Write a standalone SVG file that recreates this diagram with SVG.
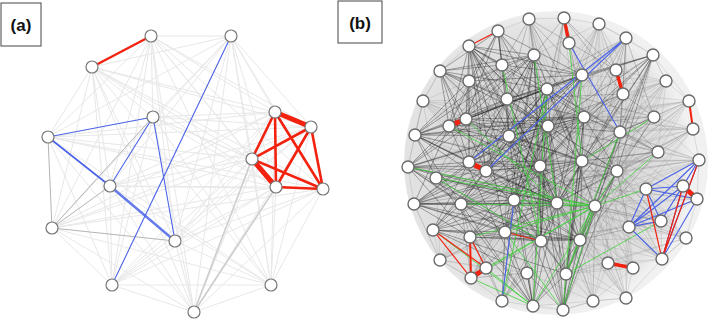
<svg xmlns="http://www.w3.org/2000/svg" width="709" height="320" viewBox="0 0 709 320">
<defs>
<radialGradient id="haze" cx="0.45" cy="0.5" r="0.5">
<stop offset="0" stop-color="#bdbdbd"/>
<stop offset="0.6" stop-color="#cbcbcb"/>
<stop offset="0.9" stop-color="#dadada"/>
<stop offset="1" stop-color="#ececec"/>
</radialGradient>
</defs>
<style>
.lbl{fill:#fff;stroke:#444;stroke-width:1}
.lt{font-family:"Liberation Sans",Arial,sans-serif;font-weight:bold;font-size:17px;fill:#111;text-anchor:middle}
.na circle{fill:#fff;stroke:#777;stroke-width:1.2}
.nb circle{fill:#fff;stroke:#6a6a6a;stroke-width:1.4}
.e{fill:none;stroke-linecap:round}
.alight{stroke:#e8e8e8;stroke-width:1}
.amed{stroke:#b4b4b4;stroke-width:1}
.red{stroke:#f2220f}
.blue{stroke:#4a63e8}
.green{stroke:#3fcf3a}
.bdark{stroke:#222;stroke-opacity:0.42;stroke-width:0.9}
.bmed{stroke:#444;stroke-opacity:0.3;stroke-width:0.9}
.blite{stroke:#888;stroke-opacity:0.25;stroke-width:0.9}
</style>
<rect width="709" height="320" fill="#fff"/>
<g id="label-a"><rect class="lbl" x="1" y="3" width="40" height="43"/><text class="lt" x="21" y="31">(a)</text></g>
<g id="label-b"><rect class="lbl" x="338" y="1" width="44" height="42"/><text class="lt" x="360" y="29">(b)</text></g>
<circle cx="556" cy="163" r="152" fill="url(#haze)" opacity="0.75"/>
<g id="connectors">
<path class="e alight" d="M151 36L231 36M151 36L153 117M151 36L48 137M151 36L275 112M151 36L311 127M151 36L252 159M151 36L276 187M151 36L323 189M151 36L110 186M151 36L52 228M151 36L175 241M151 36L112 285M151 36L271 285M151 36L194 312M231 36L92 67M231 36L153 117M231 36L48 137M231 36L275 112M231 36L311 127M231 36L252 159M231 36L276 187M231 36L323 189M231 36L110 186M231 36L52 228M231 36L175 241M231 36L271 285M231 36L194 312M92 67L153 117M92 67L48 137M92 67L275 112M92 67L311 127M92 67L252 159M92 67L276 187M92 67L323 189M92 67L110 186M92 67L52 228M92 67L175 241M92 67L112 285M92 67L271 285M92 67L194 312M153 117L275 112M153 117L311 127M153 117L252 159M153 117L276 187M153 117L323 189M153 117L112 285M153 117L271 285M153 117L194 312M48 137L275 112M48 137L311 127M48 137L252 159M48 137L276 187M48 137L323 189M48 137L112 285M48 137L271 285M48 137L194 312M275 112L110 186M275 112L52 228M275 112L175 241M275 112L112 285M275 112L271 285M275 112L194 312M311 127L110 186M311 127L52 228M311 127L175 241M311 127L112 285M311 127L271 285M311 127L194 312M252 159L110 186M252 159L52 228M252 159L175 241M252 159L112 285M252 159L271 285M276 187L110 186M276 187L52 228M276 187L175 241M276 187L112 285M276 187L271 285M323 189L110 186M323 189L52 228M323 189L175 241M323 189L112 285M323 189L271 285M323 189L194 312M110 186L112 285M110 186L271 285M110 186L194 312M52 228L112 285M52 228L271 285M52 228L194 312M175 241L112 285M175 241L271 285M175 241L194 312M112 285L271 285M112 285L194 312M271 285L194 312"/>
<path class="e amed" d="M48 137L52 228M52 228L175 241M52 228L153 117M110 186L52 228"/>
<path class="e" stroke="#cdcdcd" stroke-width="1.6" d="M194 312L252 159M194 312L276 187"/>
<path class="e blue" stroke-width="1.1" d="M48 137L153 117M153 117L110 186M153 117L175 241M231 36L112 285"/>
<path class="e blue" stroke-width="1.6" d="M48 137L110 186"/>
<path class="e blue" stroke-width="2.4" stroke-opacity="0.85" d="M110 186L175 241"/>
<path class="e red" stroke-width="2.4" d="M92 67L151 36"/>
<path class="e red" stroke-width="2.6" d="M275 112L252 159M275 112L276 187M275 112L323 189M311 127L252 159M311 127L276 187M311 127L323 189M252 159L323 189M276 187L323 189"/>
<path class="e red" stroke-width="5" d="M275 112L311 127M252 159L276 187"/>

<path class="e blite" d="M529 19L564 18M564 18L599 24M599 24L626 38M626 38L653 55M653 55L666 81M666 81L689 101M689 101L693 129M693 129L699 160M699 160L697 199M697 199L686 238M686 238L662 259M662 259L626 298M626 298L593 301M593 301L563 310M563 310L533 306M533 306L502 301M502 301L471 278M471 278L440 260M440 260L414 204M414 204L408 167M408 167L415 135M415 135L423 101M423 101L440 71M440 71L469 46M469 46L498 31M498 31L529 19M599 24L534 55M599 24L582 75M599 24L547 89M599 24L584 117M599 24L548 126M599 24L616 70M599 24L623 94M599 24L653 55M599 24L654 117M599 24L620 132M599 24L582 161M599 24L540 166M666 81L653 55M666 81L616 70M666 81L623 94M666 81L584 117M666 81L654 117M666 81L620 132M666 81L658 152M666 81L548 126M666 81L582 161M666 81L540 166M666 81L617 171M666 81L582 75M666 81L547 89M689 101L653 55M689 101L654 117M689 101L620 132M689 101L658 152M689 101L584 117M689 101L548 126M689 101L582 161M689 101L617 171M689 101L623 94M689 101L540 166M689 101L557 203M693 129L654 117M693 129L658 152M693 129L620 132M693 129L617 171M693 129L582 161M693 129L584 117M693 129L548 126M693 129L540 166M693 129L646 189M693 129L595 206M693 129L557 203M699 160L658 152M699 160L617 171M699 160L646 189M699 160L595 206M699 160L661 221M699 160L629 227M699 160L582 161M699 160L620 132M699 160L654 117M699 160L557 203M699 160L540 166M697 199L646 189M697 199L661 221M697 199L629 227M697 199L595 206M697 199L580 240M697 199L617 171M697 199L557 203M697 199L658 152M686 238L661 221M686 238L629 227M686 238L662 259M686 238L595 206M686 238L580 240M686 238L646 189M686 238L557 203M686 238L617 171M686 238L566 274M686 238L608 263M662 259L629 227M662 259L661 221M662 259L595 206M662 259L580 240M662 259L608 263M662 259L566 274M662 259L557 203M662 259L617 171M633 268L629 227M633 268L580 240M633 268L595 206M633 268L566 274M633 268L557 203M633 268L608 263M633 268L593 301M633 268L541 241M633 268L617 171M608 263L580 240M608 263L595 206M608 263L566 274M608 263L557 203M608 263L541 241M608 263L527 273M608 263L593 301M626 298L580 240M626 298L595 206M626 298L566 274M626 298L608 263M626 298L633 268M626 298L557 203M626 298L629 227M626 298L541 241M626 298L593 301M593 301L580 240M593 301L566 274M593 301L563 310M593 301L557 203M593 301L595 206M593 301L541 241M593 301L527 273M593 301L533 306M440 260L433 230M440 260L470 237M440 260L486 268M440 260L471 278M440 260L461 204M440 260L505 232M440 260L527 273M440 260L414 204M440 260L436 178M440 260L514 200M440 260L557 203M423 101L440 71M423 101L469 81M423 101L466 119M423 101L449 126M423 101L415 135M423 101L507 99M423 101L509 136M423 101L408 167M423 101L436 178M423 101L469 162M423 101L486 171M599 24L440 260M666 81L471 278M689 101L502 301M693 129L533 306M699 160L414 204M686 238L408 167M662 259L415 135M633 268L423 101M626 298L440 71M593 301L469 46M563 310L498 31M533 306L529 19M502 301L564 18M471 278L599 24M440 260L626 38M414 204L653 55M408 167L666 81M415 135L689 101M423 101L693 129M440 71L699 160M469 46L697 199M498 31L686 238M529 19L662 259M564 18L633 268M599 24L608 263M626 38L626 298M653 55L593 301M666 81L563 310M689 101L533 306M693 129L471 278M699 160L440 260M697 199L408 167M686 238L423 101M662 259L440 71M626 298L469 46M593 301L498 31M563 310L529 19M533 306L564 18M502 301L599 24M471 278L626 38M440 260L653 55M414 204L666 81M408 167L689 101M415 135L693 129M423 101L699 160M440 71L697 199M469 46L686 238M498 31L662 259M529 19L633 268M564 18L626 298M599 24L593 301M626 38L563 310M653 55L533 306M666 81L502 301M689 101L471 278M693 129L440 260M699 160L408 167M697 199L415 135M686 238L440 71M662 259L469 46M633 268L498 31M626 298L529 19M593 301L564 18M563 310L626 38M533 306L653 55M502 301L666 81M471 278L689 101M440 260L693 129M414 204L699 160M408 167L697 199M415 135L686 238M423 101L662 259M440 71L633 268M469 46L626 298M498 31L593 301M529 19L563 310"/>

<path class="e bmed" d="M626 38L582 75M626 38L547 89M626 38L584 117M626 38L548 126M626 38L582 161M626 38L620 132M626 38L623 94M626 38L654 117M626 38L507 99M623 94L584 117M623 94L548 126M623 94L582 161M623 94L540 166M623 94L620 132M623 94L654 117M623 94L507 99M623 94L509 136M623 94L557 203M654 117L584 117M654 117L548 126M654 117L582 161M654 117L540 166M654 117L620 132M654 117L617 171M654 117L557 203M654 117L595 206M654 117L547 89M658 152L582 161M658 152L540 166M658 152L557 203M658 152L617 171M658 152L620 132M658 152L548 126M658 152L584 117M658 152L547 89M658 152L582 75M658 152L580 240M661 221L557 203M661 221L595 206M661 221L580 240M661 221L541 241M661 221L617 171M661 221L582 161M661 221L540 166M529 19L534 55M529 19L502 65M529 19L582 75M529 19L547 89M529 19L507 99M529 19L548 126M529 19L584 117M529 19L616 70M564 18L582 75M564 18L547 89M564 18L584 117M564 18L548 126M564 18L616 70M564 18L623 94M564 18L534 55M617 171L620 132M617 171L595 206M617 171L629 227M617 171L514 200M617 171L509 136M617 171L486 171M617 171L461 204M617 171L507 99M469 81L507 99M469 81L466 119M469 81L449 126M469 81L509 136M469 81L486 171M469 81L469 162M469 81L540 166M469 81L548 126M502 65L507 99M502 65L466 119M502 65L449 126M502 65L509 136M502 65L486 171M502 65L469 162M502 65L540 166M502 65L548 126M502 65L469 81M507 99L466 119M507 99L449 126M507 99L509 136M507 99L469 162M507 99L486 171M507 99L461 204M507 99L514 200M502 301L514 200M502 301L557 203M502 301L470 237M502 301L505 232M502 301L541 241M502 301L527 273M502 301L540 166M502 301L509 136M502 301L461 204M471 278L461 204M471 278L514 200M471 278L557 203M471 278L505 232M471 278L541 241M471 278L527 273M461 204L509 136M461 204L486 171M461 204L514 200M461 204L505 232M461 204L470 237M436 178L509 136M436 178L486 171M436 178L461 204M436 178L514 200M436 178L557 203M436 178L505 232M436 178L507 99M436 178L466 119"/>

<path class="e bdark" d="M469 46L534 55M469 46L502 65M469 46L582 75M469 46L547 89M469 46L507 99M469 46L466 119M469 46L449 126M469 46L548 126M469 46L509 136M469 46L469 162M469 46L486 171M469 46L540 166M469 46L514 200M469 46L505 232M469 46L557 203M469 46L584 117M469 46L582 161M534 55L502 65M534 55L469 81M534 55L507 99M534 55L466 119M534 55L449 126M534 55L509 136M534 55L469 162M534 55L486 171M534 55L540 166M534 55L514 200M534 55L557 203M534 55L505 232M534 55L541 241M534 55L584 117M534 55L582 161M534 55L440 71M534 55L415 135M415 135L507 99M415 135L466 119M415 135L509 136M415 135L469 162M415 135L486 171M415 135L540 166M415 135L461 204M415 135L514 200M415 135L548 126M415 135L547 89M415 135L469 81M415 135L502 65M415 135L584 117M415 135L557 203M415 135L436 178M408 167L449 126M408 167L509 136M408 167L469 162M408 167L486 171M408 167L540 166M408 167L461 204M408 167L514 200M408 167L557 203M408 167L548 126M408 167L505 232M408 167L470 237M408 167L541 241M408 167L507 99M408 167L466 119M408 167L595 206M414 204L469 162M414 204L486 171M414 204L540 166M414 204L461 204M414 204L514 200M414 204L557 203M414 204L595 206M414 204L505 232M414 204L470 237M414 204L541 241M414 204L580 240M414 204L449 126M414 204L509 136M414 204L548 126M414 204L582 161M433 230L461 204M433 230L514 200M433 230L557 203M433 230L505 232M433 230L541 241M433 230L580 240M433 230L527 273M433 230L566 274M433 230L540 166M433 230L509 136M433 230L469 162M433 230L486 171M533 306L461 204M533 306L514 200M533 306L557 203M533 306L470 237M533 306L505 232M533 306L541 241M533 306L580 240M533 306L527 273M533 306L566 274M533 306L509 136M533 306L540 166M533 306L436 178M533 306L449 126M563 310L514 200M563 310L557 203M563 310L595 206M563 310L541 241M563 310L580 240M563 310L527 273M563 310L566 274M563 310L540 166M563 310L582 161M563 310L617 171M563 310L620 132M563 310L584 117M566 274L540 166M566 274L514 200M566 274L557 203M566 274L595 206M566 274L541 241M566 274L580 240M566 274L582 161M566 274L617 171M566 274L620 132M566 274L584 117M566 274L509 136M440 71L507 99M440 71L466 119M440 71L449 126M440 71L509 136M440 71L469 81M440 71L502 65M440 71L547 89M440 71L548 126M440 71L469 162M440 71L486 171M498 31L502 65M498 31L469 81M498 31L547 89M498 31L507 99M498 31L466 119M498 31L449 126M498 31L548 126M498 31L509 136M498 31L440 71M498 31L582 75M582 75L507 99M582 75L466 119M582 75L449 126M582 75L548 126M582 75L509 136M582 75L469 162M582 75L486 171M582 75L540 166M582 75L514 200M582 75L557 203M582 75L469 81M582 75L502 65M547 89L507 99M547 89L466 119M547 89L449 126M547 89L509 136M547 89L469 162M547 89L486 171M547 89L540 166M547 89L461 204M547 89L514 200M547 89L557 203M547 89L595 206M547 89L505 232M547 89L541 241M547 89L582 161M547 89L620 132M547 89L584 117M584 117L507 99M584 117L466 119M584 117L449 126M584 117L509 136M584 117L469 162M584 117L486 171M584 117L540 166M584 117L461 204M584 117L514 200M584 117L557 203M584 117L548 126M584 117L582 161M584 117L620 132M584 117L617 171M582 161L507 99M582 161L466 119M582 161L449 126M582 161L509 136M582 161L469 162M582 161L486 171M582 161L461 204M582 161L514 200M582 161L557 203M582 161L470 237M582 161L505 232M582 161L541 241M582 161L580 240M582 161L617 171M582 161L620 132M548 126L507 99M548 126L466 119M548 126L449 126M548 126L509 136M548 126L469 162M548 126L486 171M548 126L540 166M548 126L461 204M548 126L514 200M548 126L557 203M548 126L470 237M548 126L505 232M548 126L541 241M548 126L580 240M548 126L620 132M548 126L617 171M540 166L507 99M540 166L466 119M540 166L449 126M540 166L509 136M540 166L469 162M540 166L486 171M540 166L461 204M540 166L514 200M540 166L557 203M540 166L470 237M540 166L505 232M540 166L541 241M540 166L580 240M540 166L595 206M557 203L509 136M557 203L469 162M557 203L486 171M557 203L461 204M557 203L514 200M557 203L470 237M557 203L505 232M557 203L541 241M557 203L580 240M557 203L436 178M557 203L449 126M557 203L507 99M557 203L620 132M557 203L617 171M541 241L509 136M541 241L461 204M541 241L514 200M541 241L470 237M541 241L505 232M541 241L580 240M541 241L436 178M541 241L486 171M580 240L461 204M580 240L514 200M580 240L470 237M580 240L505 232M580 240L617 171M580 240L620 132M580 240L595 206M580 240L509 136M580 240L486 171M653 55L582 75M653 55L547 89M653 55L584 117M653 55L548 126M653 55L582 161M653 55L540 166M653 55L617 171M653 55L557 203M653 55L595 206M653 55L507 99M653 55L620 132"/>

<path class="e green" stroke-width="0.9" stroke-opacity="0.9" d="M595 206L408 167M595 206L436 178M595 206L461 204M595 206L514 200M595 206L470 237M595 206L505 232M595 206L486 268M595 206L471 278M595 206L646 189M595 206L617 171M595 206L566 274M595 206L533 306M595 206L563 310M595 206L449 126M595 206L658 152M534 55L557 203M502 65L541 241M569 43L582 161M547 89L533 306M547 89L502 301M466 119L557 203M654 117L582 161M620 132L566 274M433 230L533 306M471 278L533 306M486 268L533 306M436 178L541 241M582 75L563 310M505 232L563 310M661 221L566 274"/>

<path class="e blue" stroke-width="1.1" d="M569 43L620 132M626 38L469 162M626 38L486 171M514 200L502 301M629 227L646 189M629 227L683 186M629 227L697 199M629 227L699 160M629 227L662 259M646 189L683 186M646 189L697 199M646 189L661 221M683 186L661 221M699 160L661 221M699 160L683 186M699 160L662 259M683 186L662 259M697 199L662 259M629 227L661 221M646 189L699 160"/>

<path class="e red" stroke-width="1.2" d="M498 31L469 46M433 230L471 278M433 230L486 268M470 237L486 268M505 232L541 241M646 189L662 259M699 160L662 259M683 186L662 259"/>
<path class="e red" stroke-width="2" d="M470 237L471 278M689 101L693 129"/>
<path class="e red" stroke-width="3.4" d="M564 18L569 43M616 70L623 94M608 263L633 268"/>
<path class="e red" stroke-width="5" d="M466 119L449 126M469 162L486 171M683 186L697 199M471 278L486 268"/>
</g>

<g class="na">
<g id="a1"><circle cx="151" cy="36" r="6"/></g>
<g id="a2"><circle cx="231" cy="36" r="6"/></g>
<g id="a3"><circle cx="92" cy="67" r="6"/></g>
<g id="a4"><circle cx="153" cy="117" r="6"/></g>
<g id="a5"><circle cx="48" cy="137" r="6"/></g>
<g id="a6"><circle cx="275" cy="112" r="6"/></g>
<g id="a7"><circle cx="311" cy="127" r="6"/></g>
<g id="a8"><circle cx="252" cy="159" r="6"/></g>
<g id="a9"><circle cx="276" cy="187" r="6"/></g>
<g id="a10"><circle cx="323" cy="189" r="6"/></g>
<g id="a11"><circle cx="110" cy="186" r="6"/></g>
<g id="a12"><circle cx="52" cy="228" r="6"/></g>
<g id="a13"><circle cx="175" cy="241" r="6"/></g>
<g id="a14"><circle cx="112" cy="285" r="6"/></g>
<g id="a15"><circle cx="271" cy="285" r="6"/></g>
<g id="a16"><circle cx="194" cy="312" r="6"/></g>
</g>
<g class="nb">
<g id="b1"><circle cx="529" cy="19" r="6"/></g>
<g id="b2"><circle cx="564" cy="18" r="6"/></g>
<g id="b3"><circle cx="599" cy="24" r="6"/></g>
<g id="b4"><circle cx="498" cy="31" r="6"/></g>
<g id="b5"><circle cx="626" cy="38" r="6"/></g>
<g id="b6"><circle cx="469" cy="46" r="6"/></g>
<g id="b7"><circle cx="569" cy="43" r="6"/></g>
<g id="b8"><circle cx="534" cy="55" r="6"/></g>
<g id="b9"><circle cx="653" cy="55" r="6"/></g>
<g id="b10"><circle cx="502" cy="65" r="6"/></g>
<g id="b11"><circle cx="616" cy="70" r="6"/></g>
<g id="b12"><circle cx="440" cy="71" r="6"/></g>
<g id="b13"><circle cx="582" cy="75" r="6"/></g>
<g id="b14"><circle cx="469" cy="81" r="6"/></g>
<g id="b15"><circle cx="666" cy="81" r="6"/></g>
<g id="b16"><circle cx="547" cy="89" r="6"/></g>
<g id="b17"><circle cx="623" cy="94" r="6"/></g>
<g id="b18"><circle cx="423" cy="101" r="6"/></g>
<g id="b19"><circle cx="507" cy="99" r="6"/></g>
<g id="b20"><circle cx="689" cy="101" r="6"/></g>
<g id="b21"><circle cx="466" cy="119" r="6"/></g>
<g id="b22"><circle cx="449" cy="126" r="6"/></g>
<g id="b23"><circle cx="584" cy="117" r="6"/></g>
<g id="b24"><circle cx="654" cy="117" r="6"/></g>
<g id="b25"><circle cx="415" cy="135" r="6"/></g>
<g id="b26"><circle cx="548" cy="126" r="6"/></g>
<g id="b27"><circle cx="509" cy="136" r="6"/></g>
<g id="b28"><circle cx="693" cy="129" r="6"/></g>
<g id="b29"><circle cx="620" cy="132" r="6"/></g>
<g id="b30"><circle cx="658" cy="152" r="6"/></g>
<g id="b31"><circle cx="699" cy="160" r="6"/></g>
<g id="b32"><circle cx="469" cy="162" r="6"/></g>
<g id="b33"><circle cx="582" cy="161" r="6"/></g>
<g id="b34"><circle cx="408" cy="167" r="6"/></g>
<g id="b35"><circle cx="486" cy="171" r="6"/></g>
<g id="b36"><circle cx="540" cy="166" r="6"/></g>
<g id="b37"><circle cx="617" cy="171" r="6"/></g>
<g id="b38"><circle cx="436" cy="178" r="6"/></g>
<g id="b39"><circle cx="646" cy="189" r="6"/></g>
<g id="b40"><circle cx="683" cy="186" r="6"/></g>
<g id="b41"><circle cx="697" cy="199" r="6"/></g>
<g id="b42"><circle cx="414" cy="204" r="6"/></g>
<g id="b43"><circle cx="461" cy="204" r="6"/></g>
<g id="b44"><circle cx="514" cy="200" r="6"/></g>
<g id="b45"><circle cx="557" cy="203" r="6"/></g>
<g id="b46"><circle cx="595" cy="206" r="6"/></g>
<g id="b47"><circle cx="661" cy="221" r="6"/></g>
<g id="b48"><circle cx="629" cy="227" r="6"/></g>
<g id="b49"><circle cx="433" cy="230" r="6"/></g>
<g id="b50"><circle cx="470" cy="237" r="6"/></g>
<g id="b51"><circle cx="505" cy="232" r="6"/></g>
<g id="b52"><circle cx="541" cy="241" r="6"/></g>
<g id="b53"><circle cx="580" cy="240" r="6"/></g>
<g id="b54"><circle cx="686" cy="238" r="6"/></g>
<g id="b55"><circle cx="440" cy="260" r="6"/></g>
<g id="b56"><circle cx="662" cy="259" r="6"/></g>
<g id="b57"><circle cx="608" cy="263" r="6"/></g>
<g id="b58"><circle cx="633" cy="268" r="6"/></g>
<g id="b59"><circle cx="486" cy="268" r="6"/></g>
<g id="b60"><circle cx="471" cy="278" r="6"/></g>
<g id="b61"><circle cx="527" cy="273" r="6"/></g>
<g id="b62"><circle cx="566" cy="274" r="6"/></g>
<g id="b63"><circle cx="502" cy="301" r="6"/></g>
<g id="b64"><circle cx="533" cy="306" r="6"/></g>
<g id="b65"><circle cx="563" cy="310" r="6"/></g>
<g id="b66"><circle cx="593" cy="301" r="6"/></g>
<g id="b67"><circle cx="626" cy="298" r="6"/></g>
</g>
</svg>
